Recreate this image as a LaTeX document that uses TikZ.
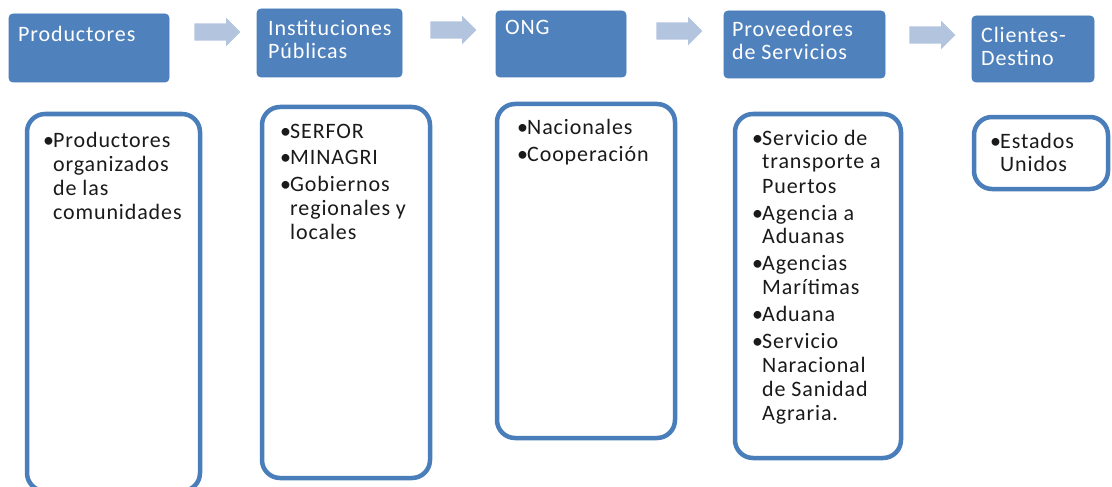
\documentclass[tikz,border=0pt]{standalone}
\usepackage{fontspec}
\setmainfont{Carlito}
\newfontfamily\fuente[LetterSpace=4]{Carlito}
\usetikzlibrary{positioning, shapes.arrows}

\definecolor{azul}{HTML}{4F81BD}
\definecolor{borde}{HTML}{4A7EBB}
\definecolor{flechaclara}{HTML}{B3C4DF}
\definecolor{texto}{HTML}{1A1A1A}

\newcommand{\lineas}[1]{\begin{tabular}[t]{@{}l@{}}#1\end{tabular}}
\newcommand{\vinetas}[1]{\begin{tabular}[t]{@{}l@{}l@{}}#1\end{tabular}}
\newcommand{\vineta}{\makebox[10pt][l]{\textbullet}}

\begin{document}
\begin{tikzpicture}[x=1pt, y=-1pt,
    titulo/.style={fill=azul, draw=borde, line width=0.8pt, rounded corners=4pt, anchor=north west, inner sep=0pt, outer sep=0pt},
    txttitulo/.style={anchor=base west, inner sep=0pt, text=white, font=\fuente\fontsize{22}{23}\selectfont},
    lista/.style={draw=borde, line width=4.5pt, fill=white, rounded corners=18pt, anchor=north west, inner sep=0pt, outer sep=0pt},
    txtlista/.style={anchor=base west, inner sep=0pt, text=texto, font=\fuente\fontsize{22}{24}\selectfont},
    flecha/.style={single arrow, fill=flechaclara, draw=none, minimum height=46pt, inner ysep=8.5pt, inner xsep=0pt, single arrow head extend=5.5pt, single arrow tip angle=90}
]
\fill[white] (0,0) rectangle (1112,487);
\useasboundingbox (0,0) rectangle (1112,487);

% cabeceras
\node[titulo, minimum width=160, minimum height=68] (prod) at (9,14) {};
\node[titulo, minimum width=145, minimum height=68] (inst) at (257,9) {};
\node[titulo, minimum width=130, minimum height=66] (ong) at (496,11) {};
\node[titulo, minimum width=161, minimum height=67] (prov) at (724,11) {};
\node[titulo, minimum width=122, minimum height=66] (cli) at (972,16) {};

\node[txttitulo] (prodtxt) at ([shift={(9,28)}]prod.north west) {\lineas{Productores}};
\node[txttitulo] (insttxt) at ([shift={(11,27)}]inst.north west) {\lineas{Instituciones\\Públicas}};
\node[txttitulo] (ongtxt) at ([shift={(9,24)}]ong.north west) {\lineas{ONG}};
\node[txttitulo] (provtxt) at ([shift={(8,26)}]prov.north west) {\lineas{Proveedores\\de Servicios}};
\node[txttitulo] (clitxt) at ([shift={(9,27)}]cli.north west) {\lineas{Clientes-\\Destino}};

% flechas
\node[flecha] (f1) at (213,32) {};
\node[flecha] (f2) at (449,30) {};
\node[flecha] (f3) at (675,31) {};
\node[flecha] (f4) at (928,35) {};

% listas
\node[lista, minimum width=173, minimum height=377] (prodlista) at (27,114) {};
\node[lista, minimum width=168, minimum height=371] (instlista) at (262,107) {};
\node[lista, minimum width=178, minimum height=334] (onglista) at (497,104) {};
\node[lista, minimum width=166, minimum height=344] (provlista) at (735,114) {};
\node[lista, minimum width=134, minimum height=72] (clilista) at (974,117) {};

\node[txtlista] at ([shift={(16,33)}]prodlista.north west)
  {\vinetas{\vineta & Productores\\ & organizados\\ & de las\\ & comunidades}};
\node[txtlista] at ([shift={(18,32)}]instlista.north west)
  {\vinetas{\vineta & SERFOR\\[2pt] \vineta & MINAGRI\\[3pt] \vineta & Gobiernos\\ & regionales y\\ & locales}};
\node[txtlista] at ([shift={(20,31)}]onglista.north west)
  {\vinetas{\vineta & Nacionales\\[3pt] \vineta & Cooperación}};
\node[txtlista] at ([shift={(17,31)}]provlista.north west)
  {\vinetas{\vineta & Servicio de\\ & transporte a\\ & Puertos\\[3pt] \vineta & Agencia a\\ & Aduanas\\[3pt] \vineta & Agencias\\ & Marítimas\\[3pt] \vineta & Aduana\\[3pt] \vineta & Servicio\\ & Naracional\\ & de Sanidad\\ & Agraria.}};
\node[txtlista] at ([shift={(16,31)}]clilista.north west)
  {\vinetas{\vineta & Estados\\ & Unidos}};
\end{tikzpicture}
\end{document}
